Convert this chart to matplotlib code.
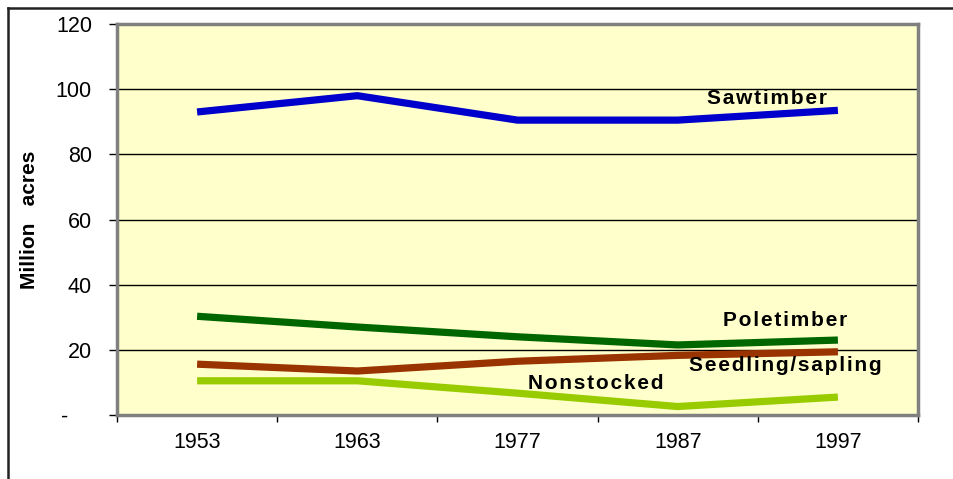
"""
forest_stocking_plot.py
"""
import matplotlib
matplotlib.use('Agg')
import matplotlib.pyplot as plt
from matplotlib.lines import Line2D

plt.rcParams['font.family'] = ['Liberation Sans', 'DejaVu Sans']
# ------------------------Data--------------------------------------------------
years = ['1953', '1963', '1977', '1987', '1997']
sawtimber = [93.0, 98.0, 90.5, 90.5, 93.5]
poletimber = [30.3, 27.0, 24.0, 21.5, 23.0]
seedling = [15.6, 13.5, 16.5, 18.3, 19.4]
nonstocked = [10.5, 10.5, 6.7, 2.6, 5.5]
yticks = [0, 20, 40, 60, 80, 100, 120]
ytick_labels = ['-    ', '20', '40', '60', '80', '100', '120']
# ------------------------------------------------------------------------------
def spaced(s):
    # Excel labels have a little letter spacing
    return '\u200a'.join(s)

fig = plt.figure(figsize=(9.54, 4.79), dpi=100)
ax = fig.add_axes([117/954, 64/479, 801/954, 391/479])
ax.set_facecolor('#FFFFCC')

x = [i + 0.5 for i in range(len(years))]
lw = 5.2
ax.plot(x, sawtimber, color='#0000CC', lw=lw, solid_capstyle='butt', zorder=3)
ax.plot(x, poletimber, color='#006600', lw=lw, solid_capstyle='butt', zorder=3)
ax.plot(x, seedling, color='#993300', lw=lw, solid_capstyle='butt', zorder=3)
ax.plot(x, nonstocked, color='#99CC00', lw=lw, solid_capstyle='butt', zorder=3)

# series labels
lab = dict(fontsize=15, fontweight='bold', ha='center', va='center', zorder=4)
ax.text(4.06, 97.0, spaced('Sawtimber'), **lab)
ax.text(4.17, 29.0, spaced('Poletimber'), **lab)
ax.text(4.17, 15.3, spaced('Seedling/sapling'), **lab)
ax.text(2.99, 9.7, spaced('Nonstocked'), **lab)

ax.set_xlim(0, len(years))
ax.set_ylim(0, 120)

ax.set_yticks(yticks)
ax.set_yticklabels(ytick_labels, fontsize=15.5)
ax.tick_params(axis='y', length=6, width=1, pad=12, direction='out')

ax.set_xticks(range(len(years) + 1))
ax.set_xticklabels([])
ax.set_xticks(x, minor=True)
ax.set_xticklabels(years, minor=True, fontsize=15.5)
ax.tick_params(axis='x', which='major', length=5, width=1, direction='out')
ax.tick_params(axis='x', which='minor', length=0, pad=12)

for yv in yticks[1:-1]:
    ax.axhline(yv, color='black', lw=1, zorder=1)

for s in ax.spines.values():
    s.set_color('#808080')
    s.set_linewidth(2.5)
ax.axhline(0, color='black', lw=1.2, zorder=2)
ax.axvline(0, color='black', lw=1.2, zorder=2)

ax.set_ylabel('Million   acres', fontsize=15, fontweight='bold')
ax.yaxis.set_label_coords(-0.098, 0.5)

# outer frame (left and top only visible)
fig.add_artist(Line2D([8/954, 8/954], [0, 1 - 8/479], transform=fig.transFigure,
                      color='#222222', lw=1.8))
fig.add_artist(Line2D([8/954, 1], [1 - 8/479, 1 - 8/479], transform=fig.transFigure,
                      color='#222222', lw=1.8))

plt.savefig('out.png', dpi=100)
# ------------------------------------------------------------------------------
